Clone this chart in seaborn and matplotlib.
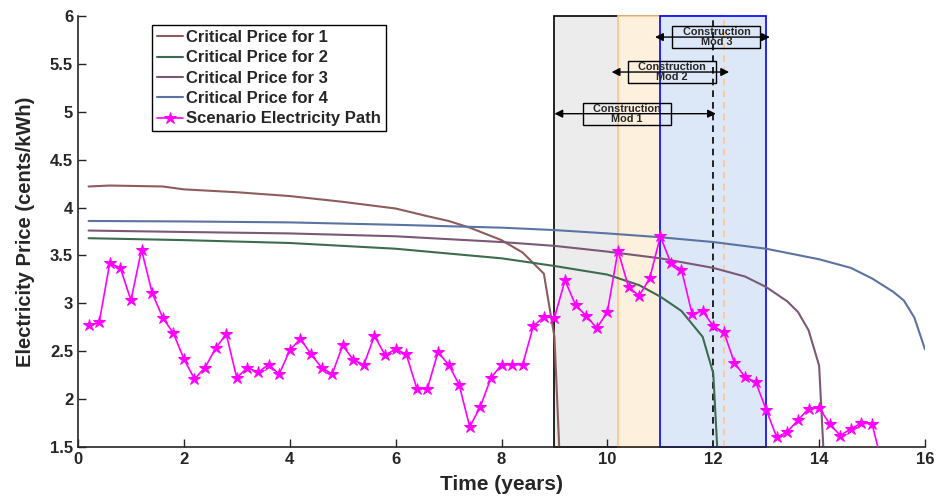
import numpy as np
import pandas as pd
import matplotlib
matplotlib.use("Agg")
import matplotlib.pyplot as plt
from matplotlib.patches import Rectangle
import seaborn as sns

# ---------------- data ----------------
t1 = [0.2, 0.6, 1.6, 2.0, 3.0, 4.0, 5.0, 6.0, 6.6, 7.0, 7.4, 8.0, 8.4, 8.6, 8.8, 9.0, 9.2]
p1 = [4.22, 4.23, 4.22, 4.19, 4.16, 4.12, 4.06, 3.99, 3.91, 3.86, 3.79, 3.66, 3.53, 3.42, 3.31, 2.65, 0.1]

t2 = [0.2, 2, 4, 6, 8, 9, 10, 10.6, 11.0, 11.4, 11.8, 12.0, 12.2]
p2 = [3.68, 3.66, 3.63, 3.57, 3.47, 3.39, 3.30, 3.19, 3.07, 2.92, 2.65, 2.27, 0.2]

t3 = [0.2, 2, 4, 6, 8, 9, 10, 11, 12, 12.6, 13.0, 13.4, 13.6, 13.8, 14.0, 14.2]
p3 = [3.76, 3.745, 3.73, 3.70, 3.64, 3.60, 3.54, 3.47, 3.37, 3.28, 3.17, 3.02, 2.91, 2.72, 2.35, 0.2]

t4 = [0.2, 2, 4, 6, 8, 9, 10, 11, 12, 13, 14, 14.6, 15.0, 15.4, 15.6, 15.8, 16.0]
p4 = [3.86, 3.855, 3.845, 3.82, 3.79, 3.765, 3.73, 3.69, 3.64, 3.57, 3.46, 3.37, 3.26, 3.12, 3.03, 2.85, 2.52]

scen_t = [round(0.2 * (i + 1), 1) for i in range(76)]
scen_p = [2.77, 2.80, 3.42, 3.37, 3.03, 3.56, 3.11, 2.85, 2.69, 2.42,
          2.21, 2.33, 2.53, 2.68, 2.22, 2.33, 2.28, 2.36, 2.26, 2.51,
          2.63, 2.47, 2.33, 2.26, 2.56, 2.41, 2.36, 2.66, 2.46, 2.52,
          2.47, 2.11, 2.11, 2.49, 2.36, 2.15, 1.71, 1.92, 2.22, 2.36,
          2.36, 2.36, 2.76, 2.86, 2.85, 3.24, 2.98, 2.87, 2.74, 2.91,
          3.55, 3.17, 3.08, 3.26, 3.70, 3.42, 3.35, 2.89, 2.92, 2.76,
          2.70, 2.38, 2.23, 2.18, 1.89, 1.60, 1.66, 1.78, 1.90, 1.91,
          1.74, 1.62, 1.69, 1.75, 1.74, 1.30]

labels = ["Critical Price for 1", "Critical Price for 2", "Critical Price for 3",
          "Critical Price for 4", "Scenario Electricity Path"]
colors = ["#8f5c5c", "#3d6b4f", "#7b5876", "#5b73a2", "#ff00ff"]

xticks = [0, 2, 4, 6, 8, 10, 12, 14, 16]
yticks = [1.5, 2, 2.5, 3, 3.5, 4, 4.5, 5, 5.5, 6]

# construction windows: (start, end)
mod_windows = [(9.0, 12.0), (10.2, 12.2), (11.0, 13.0)]
mod_fill = ["#ececec", "#fdf0dc", "#dce8f8"]
mod_edge = ["black", "#ffc58a", "#0000ff"]
mod_labels = ["Construction\nMod 1", "Construction\nMod 2", "Construction\nMod 3"]
arrow_spans = [(9.0, 12.05), (10.08, 12.3), (10.9, 13.07)]
arrow_y = [4.98, 5.415, 5.78]
box_x = [10.37, 11.22, 12.06]

# ---------------- style ----------------
sns.set_style("ticks")
plt.rcParams["font.family"] = ["Liberation Sans", "DejaVu Sans"]
plt.rcParams["font.weight"] = "bold"
plt.rcParams["axes.labelweight"] = "bold"
plt.rcParams["xtick.direction"] = "in"
plt.rcParams["ytick.direction"] = "in"

fig = plt.figure(figsize=(9.36, 5.04), dpi=100)
ax = fig.add_axes([78 / 936, 1 - 447 / 504, (925 - 78) / 936, (447 - 16) / 504])

# shaded construction windows
for i, (a, b) in enumerate(mod_windows):
    ax.add_patch(Rectangle((a, 1.5), b - a, 4.5, facecolor=mod_fill[i],
                           edgecolor=mod_edge[i], linewidth=1.2, zorder=0.5 + 0.1 * i,
                           clip_on=False))
ax.axvline(mod_windows[0][1], color="black", linestyle=(0, (4, 3)), linewidth=1.2, zorder=0.9)
ax.axvline(mod_windows[1][1], color="#ffc58a", linestyle=(0, (4, 3)), linewidth=1.2, zorder=0.9)

# curves
series = [(t1, p1), (t2, p2), (t3, p3), (t4, p4)]
for i, (tt, pp) in enumerate(series):
    df = pd.DataFrame({"t": tt, "p": pp})
    sns.lineplot(data=df, x="t", y="p", ax=ax, color=colors[i], linewidth=1.5,
                 sort=False, estimator=None, label=labels[i], zorder=2)

dfs = pd.DataFrame({"t": scen_t, "p": scen_p})
sns.lineplot(data=dfs, x="t", y="p", ax=ax, color=colors[4], linewidth=1.2,
             marker="*", markersize=9, markeredgecolor=colors[4], sort=False,
             estimator=None, label=labels[4], zorder=3)

# annotations
for i in range(3):
    a, b = arrow_spans[i]
    ax.annotate("", xy=(a, arrow_y[i]), xytext=(b, arrow_y[i]),
                arrowprops=dict(arrowstyle="<|-|>", color="black", lw=1.0,
                                mutation_scale=12, shrinkA=0, shrinkB=0), zorder=4)
    first, second = mod_labels[i].split("\n")
    ax.text(box_x[i], arrow_y[i], "   " + first + "   \n" + second, ha="center", va="center",
            fontsize=7.8, fontweight="bold", linespacing=1.0, zorder=5,
            bbox=dict(boxstyle="square,pad=0.1", facecolor="none",
                      edgecolor="black", linewidth=1.0))

ax.set_xlim(0, 16)
ax.set_ylim(1.5, 6)
ax.set_xticks(xticks)
ax.set_yticks(yticks)
ax.set_xticklabels([f"{v:g}" for v in xticks])
ax.set_yticklabels([f"{v:g}" for v in yticks])
ax.tick_params(labelsize=12, length=6, width=1)
for lbl in ax.get_xticklabels() + ax.get_yticklabels():
    lbl.set_fontweight("bold")
ax.set_xlabel("Time (years)", fontsize=15, fontweight="bold", labelpad=6)
ax.set_ylabel("Electricity Price (cents/kWh)", fontsize=14.5, fontweight="bold", labelpad=11)
sns.despine(ax=ax)
ax.spines["left"].set_linewidth(1.2)
ax.spines["bottom"].set_linewidth(1.2)

leg = ax.legend(loc="upper left", bbox_to_anchor=(0.087, 0.979), borderaxespad=0,
                fancybox=False, framealpha=1, edgecolor="black",
                handlelength=1.55, handletextpad=0.2, labelspacing=0.32,
                borderpad=0.3, prop={"weight": "bold", "size": 12})
leg.get_frame().set_linewidth(1.0)
leg.set_zorder(6)

fig.savefig("out.png", dpi=100)
